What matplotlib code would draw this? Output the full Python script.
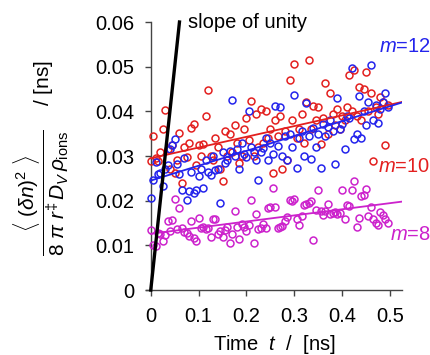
import numpy as np
import matplotlib
matplotlib.use("Agg")
import matplotlib.pyplot as plt

plt.rcParams["font.family"] = ["Liberation Sans", "DejaVu Sans"]
plt.rcParams["mathtext.fontset"] = "custom"
plt.rcParams["mathtext.rm"] = "Liberation Sans"
plt.rcParams["mathtext.it"] = "Liberation Sans:italic"
plt.rcParams["mathtext.bf"] = "Liberation Sans:bold"

# time axis, 0 ... 0.495 ns
t = np.arange(100) * 0.005

m12 = [0.0206, 0.0246, 0.0286, 0.0260, 0.0262, 0.0232, 0.0270, 0.0281, 0.0315, 0.0324,
       0.0339, 0.0283, 0.0260, 0.0223, 0.0296, 0.0202, 0.0222, 0.0265, 0.0218, 0.0223,
       0.0255, 0.0270, 0.0228, 0.0290, 0.0265, 0.0258, 0.0300, 0.0268, 0.0272, 0.0195,
       0.0308, 0.0285, 0.0290, 0.0312, 0.0425, 0.0300, 0.0316, 0.0272, 0.0330, 0.0305,
       0.0298, 0.0401, 0.0320, 0.0310, 0.0290, 0.0246, 0.0310, 0.0318, 0.0340, 0.0290,
       0.0330, 0.0305, 0.0413, 0.0322, 0.0410, 0.0300, 0.0345, 0.0290, 0.0350, 0.0320,
       0.0436, 0.0273, 0.0340, 0.0355, 0.0300, 0.0418, 0.0345, 0.0294, 0.0362, 0.0320,
       0.0350, 0.0273, 0.0372, 0.0345, 0.0365, 0.0380, 0.0355, 0.0283, 0.0431, 0.0360,
       0.0372, 0.0315, 0.0390, 0.0385, 0.0498, 0.0337, 0.0350, 0.0434, 0.0340, 0.0400,
       0.0370, 0.0420, 0.0503, 0.0380, 0.0415, 0.0375, 0.0405, 0.0420, 0.0442, 0.0410]

m10 = [0.0288, 0.0345, 0.0296, 0.0288, 0.0310, 0.0360, 0.0404, 0.0315, 0.0270, 0.0324,
       0.0262, 0.0290, 0.0352, 0.0240, 0.0320, 0.0298, 0.0330, 0.0363, 0.0371, 0.0280,
       0.0324, 0.0300, 0.0328, 0.0390, 0.0448, 0.0300, 0.0290, 0.0340, 0.0320, 0.0270,
       0.0243, 0.0355, 0.0300, 0.0350, 0.0310, 0.0370, 0.0330, 0.0285, 0.0300, 0.0360,
       0.0385, 0.0335, 0.0423, 0.0300, 0.0395, 0.0320, 0.0405, 0.0330, 0.0400, 0.0340,
       0.0360, 0.0262, 0.0380, 0.0345, 0.0390, 0.0271, 0.0355, 0.0290, 0.0470, 0.0380,
       0.0507, 0.0340, 0.0360, 0.0395, 0.0330, 0.0420, 0.0515, 0.0360, 0.0412, 0.0380,
       0.0410, 0.0326, 0.0385, 0.0463, 0.0350, 0.0440, 0.0395, 0.0370, 0.0405, 0.0360,
       0.0390, 0.0380, 0.0410, 0.0481, 0.0400, 0.0492, 0.0390, 0.0455, 0.0380, 0.0450,
       0.0488, 0.0400, 0.0440, 0.0288, 0.0410, 0.0395, 0.0433, 0.0420, 0.0324, 0.0415]

m8 = [0.0135, 0.0101, 0.0099, 0.0128, 0.0126, 0.0109, 0.0124, 0.0154, 0.0132, 0.0156,
      0.0204, 0.0136, 0.0184, 0.0138, 0.0130, 0.0128, 0.0120, 0.0154, 0.0117, 0.0109,
      0.0161, 0.0138, 0.0140, 0.0137, 0.0139, 0.0118, 0.0158, 0.0160, 0.0125, 0.0132,
      0.0118, 0.0135, 0.0142, 0.0106, 0.0126, 0.0176, 0.0140, 0.0114, 0.0148, 0.0140,
      0.0133, 0.0145, 0.0202, 0.0105, 0.0171, 0.0136, 0.0139, 0.0148, 0.0138, 0.0184,
      0.0185, 0.0228, 0.0186, 0.0139, 0.0140, 0.0143, 0.0155, 0.0163, 0.0202, 0.0200,
      0.0203, 0.0158, 0.0146, 0.0165, 0.0190, 0.0193, 0.0195, 0.0200, 0.0111, 0.0180,
      0.0225, 0.0178, 0.0168, 0.0178, 0.0192, 0.0170, 0.0172, 0.0175, 0.0170, 0.0173,
      0.0225, 0.0160, 0.0190, 0.0188, 0.0223, 0.0243, 0.0141, 0.0162, 0.0210, 0.0212,
      0.0226, 0.0166, 0.0185, 0.0160, 0.0150, 0.0145, 0.0175, 0.0168, 0.0158, 0.0150]

# linear fits: (intercept, slope)
fit12 = [0.0245, 0.0333]
fit10 = [0.0295, 0.0240]
fit8 = [0.0126, 0.0137]

red = "#e3201f"
blue = "#2424ec"
mag = "#cc22cc"

fig = plt.figure(figsize=(4.31, 3.55), dpi=100)
ax = fig.add_axes([0.3387, 0.183, 0.594, 0.755])

for vals, col in [(m10, red), (m12, blue), (m8, mag)]:
    ax.plot(t, vals, "o", mfc="none", mec=col, ms=5.0, mew=1.1, zorder=3)

tf = np.array([0.0, 0.525])
for fit, col in [(fit10, red), (fit12, blue), (fit8, mag)]:
    ax.plot(tf, fit[0] + fit[1] * tf, color=col, lw=1.3, zorder=4)

tu = np.array([0.0, 0.06])
ax.plot(tu, tu, color="black", lw=2.4, zorder=5, clip_on=False)
ax.text(0.078, 0.0598, "slope of unity", fontsize=14.5, ha="left", va="center")

ax.text(0.477, 0.0546, "$m$=12", color=blue, fontsize=14.5, ha="left", va="center")
ax.text(0.475, 0.0276, "$m$=10", color=red, fontsize=14.5, ha="left", va="center")
ax.text(0.500, 0.0124, "$m$=8", color=mag, fontsize=14.5, ha="left", va="center")

ax.set_xlim(-0.01, 0.525)
ax.set_ylim(0, 0.06)
for s in ["top", "right"]:
    ax.spines[s].set_visible(False)
ax.spines["left"].set_position(("data", 0))
ax.spines["left"].set_bounds(0, 0.06)
for s in ["left", "bottom"]:
    ax.spines[s].set_color("#444444")
    ax.spines[s].set_linewidth(1.0)

ax.set_xticks([0, 0.1, 0.2, 0.3, 0.4, 0.5])
ax.set_xticklabels(["0", "0.1", "0.2", "0.3", "0.4", "0.5"])
ax.set_yticks([0, 0.01, 0.02, 0.03, 0.04, 0.05, 0.06])
ax.set_yticklabels(["0", "0.01", "0.02", "0.03", "0.04", "0.05", "0.06"])
ax.tick_params(direction="out", length=4, width=1, color="#444444",
               labelsize=14.5, pad=8)

ax.set_xlabel("Time  $t$  /  [ns]", fontsize=14.5, labelpad=5)
fig.text(0.095, 0.555,
         r"$\dfrac{\langle\ (\delta n)^2\ \rangle}{8\ \pi\ r^{\ddagger}\,D_{V}\,\rho_{\mathrm{ions}}}$    / [ns]",
         rotation=90, ha="center", va="center", fontsize=15)

fig.savefig("out.png", dpi=100)
